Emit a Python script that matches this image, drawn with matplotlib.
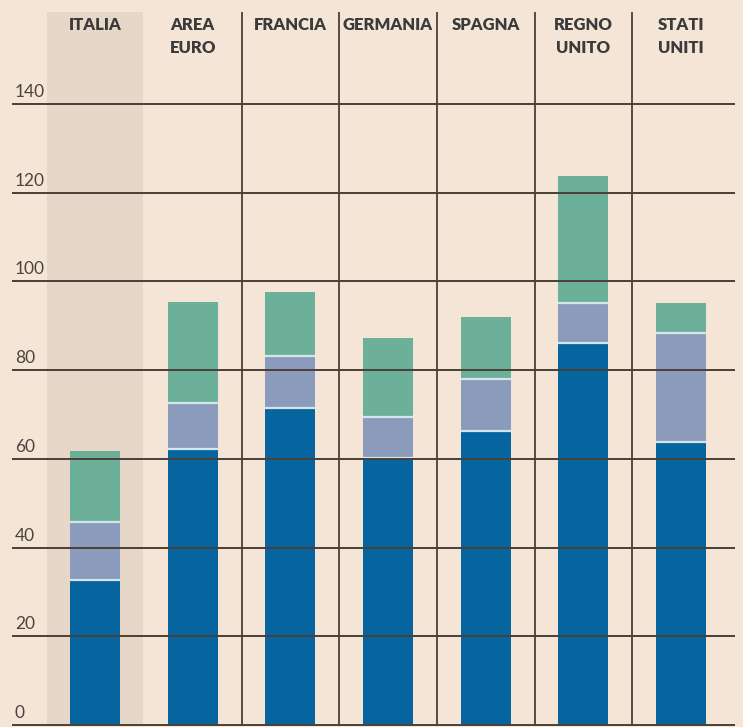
import matplotlib
matplotlib.use("Agg")
import matplotlib.pyplot as plt
import numpy as np

categories = ["ITALIA", "AREA\nEURO", "FRANCIA", "GERMANIA", "SPAGNA", "REGNO\nUNITO", "STATI\nUNITI"]
blue_vals = [32.7, 62.2, 71.5, 60.2, 66.3, 86.2, 63.8]
purple_vals = [13.0, 10.4, 11.7, 9.2, 11.7, 8.9, 24.6]
green_vals = [16.0, 22.8, 14.4, 17.8, 14.0, 28.7, 6.7]
yticks = [0, 20, 40, 60, 80, 100, 120, 140]

BG = "#f4e5d7"
SHADE = "#e6d7c8"
BLUE = "#06659f"
PURPLE = "#8a9bbb"
GREEN = "#6db09a"
SEP = "#d3e6ec"
LINE = "#4a3f37"
TEXT = "#3b3b3b"

fig = plt.figure(figsize=(7.43, 7.27), dpi=100, facecolor=BG)
ax = fig.add_axes([0, 0, 1, 1])
ax.set_facecolor(BG)
ax.set_xlim(-0.972, 6.633)
ax.set_ylim(-0.45, 163.4)
ax.axis("off")

x = np.arange(len(categories))
w = 0.512
top_y = 160.7

# Italia highlight
ax.bar(x[0], top_y, width=0.975, bottom=0, color=SHADE, zorder=0, linewidth=0)

b = np.array(blue_vals)
p = np.array(purple_vals)
g = np.array(green_vals)
ax.bar(x, b, width=w, color=BLUE, zorder=2, linewidth=0)
ax.bar(x, p, width=w, bottom=b, color=PURPLE, zorder=2, linewidth=0)
ax.bar(x, g, width=w, bottom=b + p, color=GREEN, zorder=2, linewidth=0)

# light separators between segments
for xi, y1, y2 in zip(x, b, b + p):
    ax.hlines([y1, y2], xi - w / 2, xi + w / 2, colors=SEP, linewidth=1.6, zorder=3)

# horizontal grid lines with labels
for t in yticks:
    ax.hlines(t, -0.85, 6.55, colors=LINE, linewidth=1.4, zorder=4)
    ax.text(-0.82, t + 0.9, str(t), ha="left", va="bottom", fontsize=12.5,
            color="#4a4440", family="Lato", zorder=5)

# vertical separators
for xs in x[1:-1] + 0.5:
    ax.vlines(xs, 0, top_y, colors=LINE, linewidth=1.3, zorder=4)

# headers
for xi, lab in zip(x, categories):
    ax.text(xi, 159.5, lab, ha="center", va="top", fontsize=12, fontweight="heavy",
            color=TEXT, family="Lato", linespacing=1.5, zorder=5)

fig.savefig("out.png", dpi=100, facecolor=BG)
